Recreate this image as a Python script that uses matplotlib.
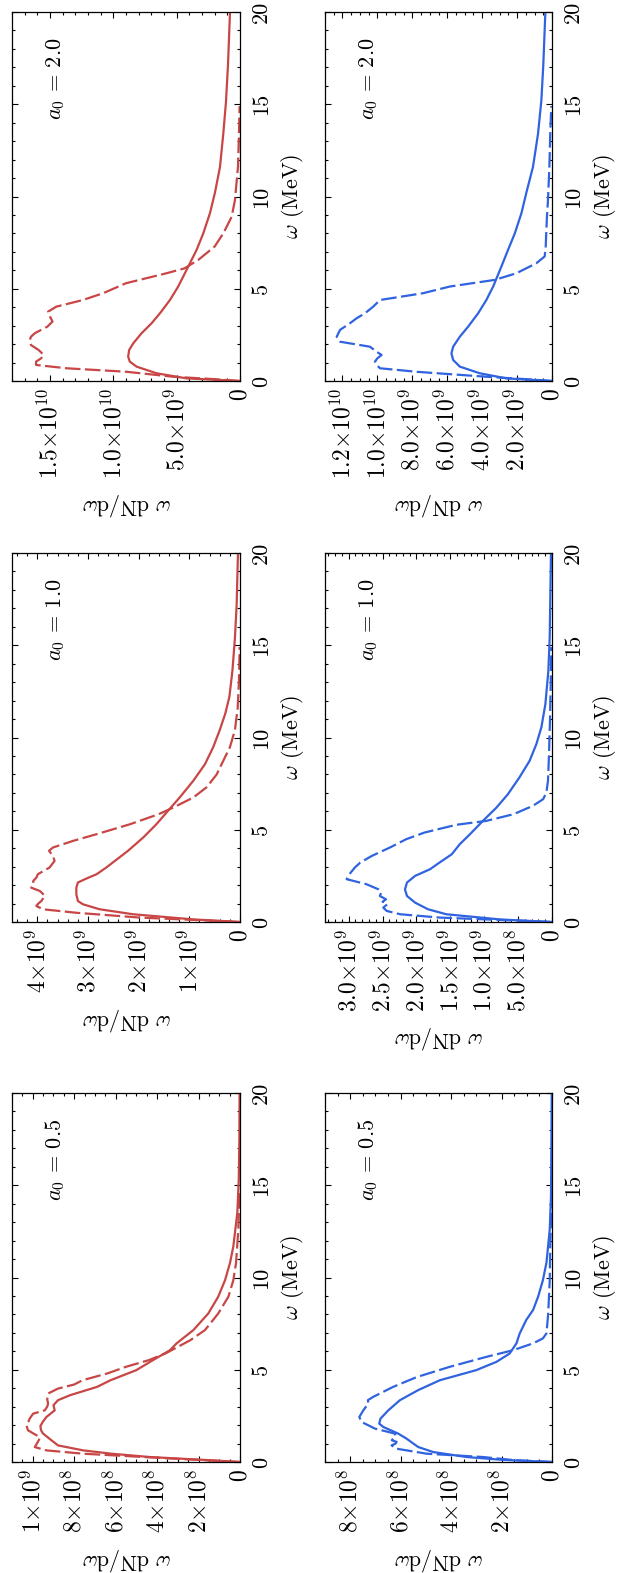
import numpy as np
import matplotlib
matplotlib.use('Agg')
import matplotlib.pyplot as plt
from matplotlib.ticker import FixedLocator, MultipleLocator

plt.rcParams['font.family'] = 'serif'
plt.rcParams['font.serif'] = ['cmr10']
plt.rcParams['mathtext.fontset'] = 'cm'
plt.rcParams['axes.unicode_minus'] = False
plt.rcParams['font.size'] = 16

RED = '#c84646'
BLUE = '#3063e0'

# spectra, omega in MeV, omega dN/domega in units of 1e9
# a0 = 2.0, red
w_r20_s = [0, 0.14, 0.42, 0.78, 1.05, 1.32, 1.68, 2.04, 2.59, 3.13, 3.67, 4.39, 5.12, 6.02, 7.1, 8.0, 9.1, 10.2, 11.6, 13.4, 15.1, 17.1, 20]
v_r20_s = [0, 4.2, 6.6, 8.17, 8.7, 8.83, 8.75, 8.43, 7.77, 6.98, 6.32, 5.53, 4.88, 4.22, 3.43, 2.9, 2.37, 1.98, 1.58, 1.32, 1.11, 0.95, 0.79]
w_r20_d = [0, 0.1, 0.23, 0.5, 0.69, 0.87, 1.05, 1.23, 1.41, 1.55, 1.68, 1.95, 2.22, 2.4, 2.59, 2.95, 3.22, 3.49, 3.76, 4.03, 4.39, 4.76, 5.3, 5.84, 6.1, 6.56, 7.29, 8.0, 8.9, 9.8, 11.6, 13.4, 14.9]
v_r20_d = [0, 2.0, 5.27, 8.96, 13.7, 16.1, 16.1, 15.7, 15.5, 15.7, 15.9, 16.5, 16.6, 16.5, 16.2, 15.2, 14.8, 15.0, 15.15, 14.5, 12.4, 10.8, 9.0, 5.8, 4.4, 3.3, 2.0, 1.32, 0.66, 0.4, 0.16, 0.08, 0.03]

# a0 = 2.0, blue
w_b20_s = [0, 0.14, 0.42, 0.78, 1.14, 1.5, 1.86, 2.4, 2.95, 3.67, 4.39, 5.12, 6.2, 7.1, 8.0, 9.1, 10.2, 11.6, 13.4, 15.2, 17.1, 20]
v_b20_s = [0, 2.6, 4.14, 5.28, 5.66, 5.76, 5.66, 5.28, 4.8, 4.23, 3.76, 3.37, 2.9, 2.52, 2.13, 1.75, 1.47, 1.09, 0.8, 0.61, 0.5, 0.38]
w_b20_d = [0, 0.1, 0.23, 0.5, 0.69, 0.87, 1.05, 1.23, 1.41, 1.59, 1.86, 2.13, 2.4, 2.77, 3.13, 3.4, 3.67, 4.03, 4.39, 4.76, 5.12, 5.48, 5.84, 6.38, 6.75, 7.29, 8.0, 8.9, 9.8, 11.6, 13.4, 14.9]
v_b20_d = [0, 1.5, 3.75, 7.76, 9.85, 10.05, 10.14, 10.0, 9.76, 10.05, 10.43, 12.14, 12.33, 12.14, 11.57, 11.19, 10.71, 10.24, 9.85, 7.38, 5.85, 3.28, 2.04, 0.9, 0.42, 0.36, 0.33, 0.29, 0.23, 0.15, 0.1, 0.04]

# a0 = 1.0, red
w_r10_s = [0, 0.14, 0.42, 0.69, 0.96, 1.14, 1.5, 1.86, 2.14, 2.32, 2.59, 2.95, 3.31, 3.86, 4.58, 5.3, 6.03, 6.75, 7.66, 8.56, 9.47, 10.4, 11.3, 12.2, 13.6, 15.4, 17.2, 20]
v_r10_s = [0, 0.92, 2.11, 2.77, 3.1, 3.2, 3.23, 3.23, 3.2, 3.06, 2.83, 2.64, 2.47, 2.21, 1.91, 1.65, 1.42, 1.19, 0.92, 0.69, 0.53, 0.4, 0.29, 0.21, 0.15, 0.1, 0.066, 0.04]
w_r10_d = [0, 0.1, 0.24, 0.5, 0.69, 0.87, 1.0, 1.14, 1.3, 1.41, 1.55, 1.68, 1.86, 2.0, 2.23, 2.4, 2.59, 2.95, 3.31, 3.58, 3.86, 4.04, 4.4, 4.76, 5.3, 5.85, 6.2, 6.75, 7.3, 8.0, 8.74, 9.47, 10.4, 11.6, 13.1, 14.9]
v_r10_d = [0, 0.8, 1.98, 3.23, 3.89, 4.02, 3.98, 3.92, 3.88, 3.85, 3.9, 3.95, 4.12, 4.08, 4.08, 4.02, 3.99, 3.76, 3.66, 3.69, 3.77, 3.69, 3.29, 2.83, 2.17, 1.6, 1.32, 0.92, 0.66, 0.46, 0.33, 0.2, 0.1, 0.046, 0.02, 0.007]

# a0 = 1.0, blue
w_b10_s = [0, 0.14, 0.42, 0.69, 1.05, 1.41, 1.77, 2.14, 2.5, 2.86, 3.22, 3.67, 4.22, 4.76, 5.48, 6.2, 6.93, 7.84, 8.74, 9.65, 10.55, 11.8, 13.6, 15.4, 20]
v_b10_s = [0, 0.77, 1.56, 1.83, 2.02, 2.14, 2.17, 2.14, 2.02, 1.8, 1.66, 1.48, 1.36, 1.21, 1.02, 0.82, 0.65, 0.48, 0.33, 0.23, 0.157, 0.098, 0.054, 0.034, 0.015]
w_b10_d = [0, 0.1, 0.24, 0.42, 0.6, 0.78, 0.96, 1.1, 1.23, 1.41, 1.6, 1.77, 2.05, 2.32, 2.59, 2.95, 3.22, 3.58, 4.04, 4.49, 4.85, 5.27, 5.48, 5.84, 6.3, 6.66, 7.02, 7.66, 9.1, 10.9, 12.7, 14.9]
v_b10_d = [0, 0.7, 1.66, 2.24, 2.44, 2.49, 2.43, 2.5, 2.45, 2.54, 2.52, 2.56, 2.74, 3.03, 2.99, 2.91, 2.83, 2.66, 2.39, 2.15, 1.88, 1.41, 0.97, 0.57, 0.28, 0.13, 0.083, 0.059, 0.044, 0.03, 0.02, 0.01]

# a0 = 0.5, red
w_r05_s = [0, 0.1, 0.27, 0.45, 0.63, 0.9, 1.18, 1.54, 1.72, 1.95, 2.2, 2.44, 2.8, 3.08, 3.35, 3.62, 4.07, 4.43, 4.98, 5.52, 6.06, 6.43, 7.15, 8.05, 8.96, 9.86, 10.8, 11.7, 13.5, 15.3, 17.5, 20]
v_r05_s = [0, 0.15, 0.435, 0.62, 0.757, 0.878, 0.91, 0.95, 0.96, 0.963, 0.95, 0.934, 0.894, 0.9, 0.878, 0.82, 0.69, 0.625, 0.5, 0.42, 0.338, 0.306, 0.225, 0.153, 0.105, 0.072, 0.048, 0.032, 0.013, 0.006, 0.003, 0.002]
w_r05_d = [0, 0.2, 0.45, 0.63, 0.81, 1.0, 1.2, 1.36, 1.5, 1.72, 2.0, 2.2, 2.35, 2.62, 2.8, 3.0, 3.17, 3.4, 3.71, 3.98, 4.2, 4.43, 4.8, 5.16, 5.52, 5.88, 6.24, 6.6, 7.15, 8.05, 8.96, 9.86, 10.8, 12.6, 14.75]
v_r05_d = [0, 0.35, 0.757, 0.934, 0.99, 0.98, 0.97, 0.966, 0.99, 1.023, 1.031, 1.02, 1.015, 0.998, 0.942, 0.93, 0.926, 0.93, 0.926, 0.878, 0.8, 0.76, 0.64, 0.55, 0.44, 0.36, 0.3, 0.24, 0.169, 0.105, 0.056, 0.032, 0.019, 0.008, 0.003]

# a0 = 0.5, blue
w_b05_s = [0, 0.12, 0.27, 0.54, 0.81, 1.0, 1.27, 1.54, 1.9, 2.08, 2.35, 2.8, 3.35, 3.9, 4.43, 4.98, 5.43, 5.88, 6.43, 6.97, 7.7, 8.24, 8.96, 9.86, 10.8, 12.6, 14.4, 20]
v_b05_s = [0, 0.2, 0.339, 0.471, 0.53, 0.55, 0.577, 0.61, 0.669, 0.685, 0.68, 0.649, 0.603, 0.53, 0.445, 0.3, 0.22, 0.168, 0.141, 0.128, 0.102, 0.075, 0.055, 0.036, 0.022, 0.009, 0.004, 0.001]
w_b05_d = [0, 0.1, 0.27, 0.45, 0.72, 0.9, 1.0, 1.09, 1.18, 1.27, 1.4, 1.54, 1.81, 2.17, 2.44, 2.8, 3.17, 3.35, 3.53, 4.07, 4.6, 5.16, 5.7, 6.06, 6.43, 6.7, 6.97, 8.05, 9.86, 11.7, 13.1, 14.9]
v_b05_d = [0, 0.15, 0.273, 0.497, 0.616, 0.636, 0.62, 0.616, 0.635, 0.63, 0.62, 0.623, 0.702, 0.755, 0.764, 0.748, 0.728, 0.73, 0.709, 0.63, 0.537, 0.405, 0.26, 0.154, 0.075, 0.036, 0.022, 0.015, 0.009, 0.007, 0.004, 0.001]

# axis ranges and tick labels of the dN/domega axis
xmax_r20, xmax_b20 = 1.8e10, 1.3e10
xmax_r10, xmax_b10 = 4.5e9, 3.35e9
xmax_r05, xmax_b05 = 1.1e9, 9e8

ticks_r20 = [0, 5e9, 1e10, 1.5e10]
labels_r20 = ['0', r'$5.0{\times}10^{9}$', r'$1.0{\times}10^{10}$', r'$1.5{\times}10^{10}$']
ticks_b20 = [0, 2e9, 4e9, 6e9, 8e9, 1e10, 1.2e10]
labels_b20 = ['0', r'$2.0{\times}10^{9}$', r'$4.0{\times}10^{9}$', r'$6.0{\times}10^{9}$',
              r'$8.0{\times}10^{9}$', r'$1.0{\times}10^{10}$', r'$1.2{\times}10^{10}$']
ticks_r10 = [0, 1e9, 2e9, 3e9, 4e9]
labels_r10 = ['0', r'$1{\times}10^{9}$', r'$2{\times}10^{9}$', r'$3{\times}10^{9}$', r'$4{\times}10^{9}$']
ticks_b10 = [0, 5e8, 1e9, 1.5e9, 2e9, 2.5e9, 3e9]
labels_b10 = ['0', r'$5.0{\times}10^{8}$', r'$1.0{\times}10^{9}$', r'$1.5{\times}10^{9}$',
              r'$2.0{\times}10^{9}$', r'$2.5{\times}10^{9}$', r'$3.0{\times}10^{9}$']
ticks_r05 = [0, 2e8, 4e8, 6e8, 8e8, 1e9]
labels_r05 = ['0', r'$2{\times}10^{8}$', r'$4{\times}10^{8}$', r'$6{\times}10^{8}$',
              r'$8{\times}10^{8}$', r'$1{\times}10^{9}$']
ticks_b05 = [0, 2e8, 4e8, 6e8, 8e8]
labels_b05 = ['0', r'$2{\times}10^{8}$', r'$4{\times}10^{8}$', r'$6{\times}10^{8}$', r'$8{\times}10^{8}$']

panels = [
    (0, 0, w_r20_s, v_r20_s, w_r20_d, v_r20_d, RED, xmax_r20, ticks_r20, labels_r20, 1e9, '2.0'),
    (0, 1, w_b20_s, v_b20_s, w_b20_d, v_b20_d, BLUE, xmax_b20, ticks_b20, labels_b20, 5e8, '2.0'),
    (1, 0, w_r10_s, v_r10_s, w_r10_d, v_r10_d, RED, xmax_r10, ticks_r10, labels_r10, 2e8, '1.0'),
    (1, 1, w_b10_s, v_b10_s, w_b10_d, v_b10_d, BLUE, xmax_b10, ticks_b10, labels_b10, 1e8, '1.0'),
    (2, 0, w_r05_s, v_r05_s, w_r05_d, v_r05_d, RED, xmax_r05, ticks_r05, labels_r05, 5e7, '0.5'),
    (2, 1, w_b05_s, v_b05_s, w_b05_d, v_b05_d, BLUE, xmax_b05, ticks_b05, labels_b05, 5e7, '0.5'),
]

W, H = 619, 1573
fig = plt.figure(figsize=(W / 100, H / 100), dpi=100)
col_x = [12, 325]
col_w = [228, 227]
row_y = [12, 553, 1093]
row_h = 369

for r, c, ws, vs, wd, vd, color, xmax, ticks, labels, minor, a0 in panels:
    ax = fig.add_axes([col_x[c] / W, 1 - (row_y[r] + row_h) / H, col_w[c] / W, row_h / H])
    ax.plot(np.array(vs) * 1e9, ws, color=color, lw=1.6)
    ax.plot(np.array(vd) * 1e9, wd, color=color, lw=1.6, dashes=(7, 2))
    ax.set_xlim(xmax, 0)
    ax.set_ylim(0, 20)

    ax.xaxis.set_major_locator(FixedLocator(ticks))
    ax.set_xticklabels(labels, fontsize=17)
    ax.xaxis.set_minor_locator(MultipleLocator(minor))
    ax.yaxis.set_major_locator(MultipleLocator(5))
    ax.yaxis.set_minor_locator(MultipleLocator(1))

    ax.tick_params(which='both', direction='in', top=True, bottom=True,
                   left=True, right=True, labelleft=False, labelright=True, width=0.8)
    ax.tick_params(which='major', length=4.5)
    ax.tick_params(which='minor', length=2.2)
    ax.tick_params(axis='x', labelrotation=90, pad=5)
    ax.tick_params(axis='y', labelrotation=90, pad=8)
    for t in ax.get_yticklabels():
        t.set_va('center')
    for s in ax.spines.values():
        s.set_linewidth(0.9)

    ax.yaxis.set_label_position('right')
    ax.set_ylabel(r'$\omega$ (MeV)', labelpad=6)
    ax.set_xlabel(r'$\omega$ dN/d$\omega$', rotation=180, labelpad=9)
    ax.text(0.19, 0.93, r'$a_0$ = ' + a0, transform=ax.transAxes,
            rotation=90, ha='center', va='top')

fig.savefig('out.png', dpi=100)
